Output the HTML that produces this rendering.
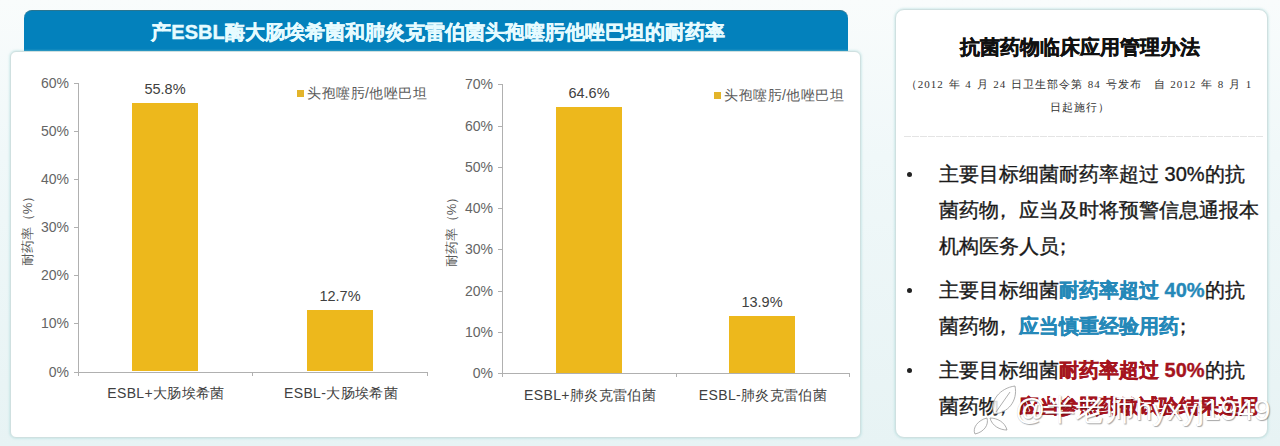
<!DOCTYPE html>
<html><head><meta charset="utf-8">
<style>
html,body{margin:0;padding:0;}
body{width:1280px;height:446px;overflow:hidden;position:relative;background:linear-gradient(to bottom,#f9fcfc 0%,#f0f8f9 35%,#e7f3f4 100%);font-family:"Liberation Sans",sans-serif;}
.a{position:absolute;white-space:nowrap;}
#hdr{left:24px;top:10px;width:824px;height:42px;background:#0381bc;border-top:1px solid #2a7590;box-sizing:border-box;border-radius:8px 8px 0 0;}
#hdrt{left:26px;top:11.5px;width:824px;height:41px;line-height:41px;text-align:center;color:#e6fbff;-webkit-text-stroke:0.4px #e6fbff;font-size:20px;font-weight:bold;}
#card{left:10px;top:51px;width:851px;height:387px;background:#fff;border:1px solid #cfe0e0;border-radius:6px;box-shadow:0 0 2px 1px rgba(150,210,210,0.35);box-sizing:border-box;}
#rp{left:895px;top:9px;width:373px;height:429px;background:#fff;border:1px solid #cfe0e0;border-radius:9px;box-shadow:0 0 2px 1px rgba(150,210,210,0.35);box-sizing:border-box;}
.tk{font-size:14px;color:#656565;text-align:right;width:40px;height:16px;line-height:16px;}
.dl{font-size:14.5px;color:#404040;text-align:center;width:80px;height:16px;line-height:16px;}
.cat{font-size:14px;letter-spacing:0.35px;color:#404040;text-align:center;width:200px;height:18px;line-height:18px;}
.leg{font-size:14px;letter-spacing:0.5px;color:#595959;height:16px;line-height:16px;}
.sq{width:7px;height:7px;background:#e3b42a;}
.bar{background:#edb81c;}
.ax{background:#b0b0b0;}
.yt{font-size:13px;color:#595959;transform:rotate(-90deg);width:80px;height:14px;line-height:14px;text-align:center;}
.rt{font-size:20px;color:#1a1a1a;-webkit-text-stroke:0.35px currentColor;height:24px;line-height:24px;}
.dot{width:5px;height:5px;border-radius:50%;background:#222;}
.blue{color:#2588b8;font-weight:bold;}
.red{color:#a5141e;font-weight:bold;}
.ttl{font-family:"Liberation Serif",serif;font-size:20px;font-weight:bold;color:#111;-webkit-text-stroke:0.4px #111;height:24px;line-height:24px;}
.wm{font-size:30px;color:#fff;height:30px;line-height:30px;text-shadow:1px 1px 1px rgba(0,0,0,0.35),-0.5px -0.5px 0.5px rgba(0,0,0,0.15);letter-spacing:0px;}
.pc{display:inline-block;width:20px;text-indent:-6px;}
.sub{font-family:"Liberation Serif",serif;font-size:11px;letter-spacing:1px;word-spacing:1px;color:#333;height:16px;line-height:16px;}
</style></head><body>
<div class="a" id="hdr"></div>
<div class="a" id="hdrt">产ESBL酶大肠埃希菌和肺炎克雷伯菌头孢噻肟他唑巴坦的耐药率</div>
<div class="a" id="card"></div>
<div class="a" id="rp"></div>
<div class="a ax" style="left:78px;top:83px;width:1px;height:289px;"></div>
<div class="a ax" style="left:78px;top:372px;width:350px;height:1px;"></div>
<div class="a ax" style="left:74px;top:372px;width:4px;height:1px;"></div>
<div class="a tk" style="left:29px;top:364px;">0%</div>
<div class="a ax" style="left:74px;top:323px;width:4px;height:1px;"></div>
<div class="a tk" style="left:29px;top:315px;">10%</div>
<div class="a ax" style="left:74px;top:275px;width:4px;height:1px;"></div>
<div class="a tk" style="left:29px;top:267px;">20%</div>
<div class="a ax" style="left:74px;top:227px;width:4px;height:1px;"></div>
<div class="a tk" style="left:29px;top:219px;">30%</div>
<div class="a ax" style="left:74px;top:179px;width:4px;height:1px;"></div>
<div class="a tk" style="left:29px;top:171px;">40%</div>
<div class="a ax" style="left:74px;top:131px;width:4px;height:1px;"></div>
<div class="a tk" style="left:29px;top:123px;">50%</div>
<div class="a ax" style="left:74px;top:83px;width:4px;height:1px;"></div>
<div class="a tk" style="left:29px;top:75px;">60%</div>
<div class="a ax" style="left:78px;top:372px;width:1px;height:4px;"></div>
<div class="a ax" style="left:252px;top:372px;width:1px;height:4px;"></div>
<div class="a ax" style="left:427px;top:372px;width:1px;height:4px;"></div>
<div class="a bar" style="left:132px;top:103px;width:66px;height:268px;"></div>
<div class="a dl" style="left:125px;top:81px;">55.8%</div>
<div class="a cat" style="left:66px;top:384px;">ESBL+大肠埃希菌</div>
<div class="a bar" style="left:307px;top:310px;width:66px;height:61px;"></div>
<div class="a dl" style="left:300px;top:288px;">12.7%</div>
<div class="a cat" style="left:241px;top:384px;">ESBL-大肠埃希菌</div>
<div class="a sq" style="left:297px;top:90px;"></div>
<div class="a leg" style="left:307px;top:85px;">头孢噻肟/他唑巴坦</div>
<div class="a yt" style="left:-12px;top:221px;">耐药率（%）</div>
<div class="a ax" style="left:502px;top:84px;width:1px;height:289px;"></div>
<div class="a ax" style="left:502px;top:373px;width:348px;height:1px;"></div>
<div class="a ax" style="left:498px;top:373px;width:4px;height:1px;"></div>
<div class="a tk" style="left:453px;top:365px;">0%</div>
<div class="a ax" style="left:498px;top:332px;width:4px;height:1px;"></div>
<div class="a tk" style="left:453px;top:324px;">10%</div>
<div class="a ax" style="left:498px;top:291px;width:4px;height:1px;"></div>
<div class="a tk" style="left:453px;top:283px;">20%</div>
<div class="a ax" style="left:498px;top:249px;width:4px;height:1px;"></div>
<div class="a tk" style="left:453px;top:241px;">30%</div>
<div class="a ax" style="left:498px;top:208px;width:4px;height:1px;"></div>
<div class="a tk" style="left:453px;top:200px;">40%</div>
<div class="a ax" style="left:498px;top:167px;width:4px;height:1px;"></div>
<div class="a tk" style="left:453px;top:159px;">50%</div>
<div class="a ax" style="left:498px;top:126px;width:4px;height:1px;"></div>
<div class="a tk" style="left:453px;top:118px;">60%</div>
<div class="a ax" style="left:498px;top:84px;width:4px;height:1px;"></div>
<div class="a tk" style="left:453px;top:76px;">70%</div>
<div class="a ax" style="left:502px;top:373px;width:1px;height:4px;"></div>
<div class="a ax" style="left:676px;top:373px;width:1px;height:4px;"></div>
<div class="a ax" style="left:849px;top:373px;width:1px;height:4px;"></div>
<div class="a bar" style="left:556px;top:107px;width:66px;height:266px;"></div>
<div class="a dl" style="left:549px;top:85px;">64.6%</div>
<div class="a cat" style="left:490px;top:386px;">ESBL+肺炎克雷伯菌</div>
<div class="a bar" style="left:729px;top:316px;width:66px;height:57px;"></div>
<div class="a dl" style="left:722px;top:294px;">13.9%</div>
<div class="a cat" style="left:663px;top:386px;">ESBL-肺炎克雷伯菌</div>
<div class="a sq" style="left:714px;top:92px;"></div>
<div class="a leg" style="left:724px;top:87px;">头孢噻肟/他唑巴坦</div>
<div class="a yt" style="left:412px;top:222px;">耐药率（%）</div>
<div class="a ttl" style="left:894px;top:35px;width:372px;text-align:center;">抗菌药物临床应用管理办法</div>
<div class="a sub" style="left:893px;top:76px;width:372px;text-align:center;">（2012 年 4 月 24 日卫生部令第 84 号发布　自 2012 年 8 月 1</div>
<div class="a sub" style="left:894px;top:99px;width:372px;text-align:center;">日起施行）</div>
<div class="a" style="left:904px;top:136px;width:359px;height:1px;background:repeating-linear-gradient(to right,#e4e4e4 0 7px,transparent 7px 8px);"></div>
<div class="a dot" style="left:907px;top:171.5px;"></div>
<div class="a rt" style="left:939px;top:162px;">主要目标细菌耐药率超过 30%的抗</div>
<div class="a rt" style="left:939px;top:198px;">菌药物<span class="pc">，</span>应当及时将预警信息通报本</div>
<div class="a rt" style="left:939px;top:234px;">机构医务人员<span class="pc">；</span></div>
<div class="a dot" style="left:907px;top:287.5px;"></div>
<div class="a rt" style="left:939px;top:278px;">主要目标细菌<span class="blue">耐药率超过 40%</span>的抗</div>
<div class="a rt" style="left:939px;top:314px;">菌药物<span class="pc">，</span><span class="blue">应当慎重经验用药</span><span class="pc">；</span></div>
<div class="a dot" style="left:907px;top:367.5px;"></div>
<div class="a rt" style="left:939px;top:358px;">主要目标细菌<span class="red">耐药率超过 50%</span>的抗</div>
<div class="a rt" style="left:939px;top:394px;">菌药物<span class="pc">，</span><span class="red">应当参照药敏试验结果选用</span></div>
<div class="a wm" style="left:1015px;top:395px;">@半老师hyxyj1949</div>
<svg class="a" style="left:960px;top:380px;" width="60" height="66" viewBox="0 0 60 66"><g fill="rgba(255,255,255,0.85)" stroke="#9a9a9a" stroke-width="0.8"><path d="M34,34 C29,21 40,8 55,6 C58,21 48,33 34,34 Z"/><path d="M27,38 C18,40 12,48 15,54 C24,52 29,45 27,38 Z"/><path d="M30,38 C32,46 40,50 47,50 C45,42 37,38 30,38 Z"/></g><path d="M36,32 L50,12" stroke="#9a9a9a" stroke-width="0.8" fill="none"/></svg>
</body></html>
